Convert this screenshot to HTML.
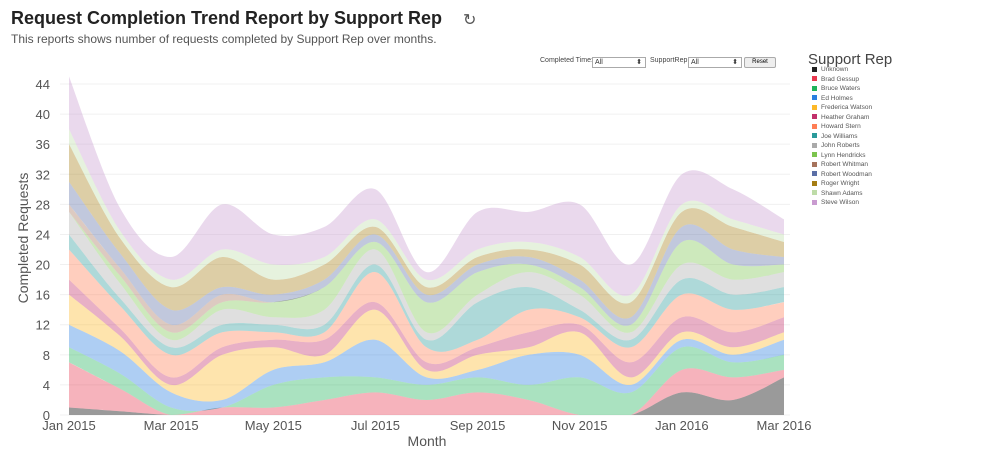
<!DOCTYPE html>
<html><head><meta charset="utf-8"><style>
body{margin:0;width:990px;height:449px;background:#fff;font-family:"Liberation Sans",sans-serif;overflow:hidden;position:relative}
.t{position:absolute;left:11px;top:8px;font-size:18px;font-weight:bold;color:#222}
.s{position:absolute;left:11px;top:32px;font-size:12px;color:#555}
.ctl{position:absolute;top:57px;font-size:7px;color:#444;white-space:nowrap}
.sel{position:absolute;top:57px;border:1px solid #aaa;width:50px;height:9px;font-size:7px;padding-left:2px;background:#fff;color:#333;line-height:9px}
.btn{position:absolute;left:744px;top:57px;width:30px;height:9px;border:1px solid #aaa;border-radius:2px;background:#eee;font-size:6px;text-align:center;line-height:9px}
.lg{position:absolute;left:812px;font-size:6.5px;color:#555}
.lg i{display:inline-block;width:5px;height:5px;margin-right:4px;vertical-align:middle}
</style></head><body>
<div class="t">Request Completion Trend Report by Support Rep</div>
<div style="position:absolute;left:463px;top:10px;font-size:16px;color:#555">↻</div>
<div class="s">This reports shows number of requests completed by Support Rep over months.</div>
<div class="ctl" style="left:540px">Completed Time:</div>
<div class="sel" style="left:592px">All<span style="position:absolute;right:3px">⬍</span></div>
<div class="ctl" style="left:650px">SupportRep:</div>
<div class="sel" style="left:688px">All<span style="position:absolute;right:3px">⬍</span></div>
<div class="btn">Reset</div>
<div style="position:absolute;left:808px;top:51px;font-size:15px;color:#444">Support Rep</div>
<div id="lg"></div>
<svg id="c" width="990" height="449" style="position:absolute;left:0;top:0"></svg>
<script>
var names=["Unknown","Brad Gessup","Bruce Waters","Ed Holmes","Frederica Watson","Heather Graham","Howard Stern","Joe Williams","John Roberts","Lynn Hendricks","Robert Whitman","Robert Woodman","Roger Wright","Shawn Adams","Steve Wilson"];
var cols=["#222","#e8384f","#1fb35a","#2a7fe0","#fdb827","#c2306a","#ff7e55","#2a9a9a","#aaa","#7cc44e","#a6735c","#5b6fa6","#a57d14","#bedca8","#c99bd0"];
var D=[[1,0.5,0,0,0,0,0,0,0,0,0,0,3,2,5],
[6,3,0,1,1,2,3,2,3,2,0,0,3,3,1],
[2,2,1,0,3,3,2,2,2,2,5,3,3,2,2],
[3,3,2,1,2,2,5,1,1,4,3,1,1,1,2],
[4,2,1,6,3,1,4,1,2,1,3,1,1,1,1],
[2,1,1,1,1,2,1,1,1,2,1,2,2,2,2],
[4,3,3,2,1,1,4,2,1,3,1,2,3,3,2],
[2,1,1,1,1,1,1,1,5,3,1,1,2,2,2],
[3,2,1,2,1,2,2,1,1,2,2,1,2,2,2],
[0,1,1,1,2,3,1,4,3,1,1,1,3,2,1],
[1,1,1,1,0,0,0,0,0,0,0,0,0,0,0],
[3,2,2,1,1,1,1,1,1,1,1,1,2,2,1],
[5,2,3,4,2,2,1,1,1,1,2,2,2,3,2],
[2,1,1,1,2,1,1,1,1,1,1,1,1,1,1],
[7,3,3,6,4,4,4,1,5,4,7,4,4,4,2]];
var X0=69,DX=(784-69)/14,Y0=415,SY=(415-84)/44;
var svg='',i,j;
for(i=0;i<=44;i+=4){var y=Y0-i*SY;svg+='<line x1="60" x2="790" y1="'+y+'" y2="'+y+'" stroke="#f0f0f0"/>';
svg+='<text x="50" y="'+(y+5)+'" text-anchor="end" font-size="13" fill="#555">'+i+'</text>';}
var ml=["Jan 2015","Mar 2015","May 2015","Jul 2015","Sep 2015","Nov 2015","Jan 2016","Mar 2016"];
for(i=0;i<8;i++){svg+='<text x="'+(X0+i*2*DX)+'" y="430" text-anchor="middle" font-size="13" fill="#555">'+ml[i]+'</text>';}
svg+='<text x="427" y="446" text-anchor="middle" font-size="14" fill="#555">Month</text>';
svg+='<text transform="translate(28,238) rotate(-90)" text-anchor="middle" font-size="14" fill="#555">Completed Requests</text>';
var cum=[];var base=new Array(15).fill(0);cum.push(base.slice());
for(i=0;i<15;i++){for(j=0;j<15;j++)base[j]+=D[i][j];cum.push(base.slice());}
function pts(a){return a.map(function(v,k){return [X0+k*DX,Y0-v*SY];});}
function curve(p,rev){if(rev)p=p.slice().reverse();var s='';for(var k=0;k<p.length-1;k++){var p0=p[Math.max(k-1,0)],p1=p[k],p2=p[k+1],p3=p[Math.min(k+2,p.length-1)];
var c1=[p1[0]+(p2[0]-p0[0])/6,p1[1]+(p2[1]-p0[1])/6],c2=[p2[0]-(p3[0]-p1[0])/6,p2[1]-(p3[1]-p1[1])/6];
c1[1]=Math.min(c1[1],Y0);c2[1]=Math.min(c2[1],Y0);
s+=' C'+c1[0].toFixed(1)+','+c1[1].toFixed(1)+' '+c2[0].toFixed(1)+','+c2[1].toFixed(1)+' '+p2[0].toFixed(1)+','+p2[1].toFixed(1);}return s;}
for(i=0;i<15;i++){var lo=pts(cum[i]),hi=pts(cum[i+1]);
var d='M'+hi[0][0]+','+hi[0][1]+curve(hi)+' L'+lo[14][0]+','+lo[14][1]+curve(lo,true)+' Z';
svg+='<path d="'+d+'" fill="'+(i==0?'#888':cols[i])+'" fill-opacity="'+(i==0?0.85:0.38)+'" stroke="none"/>';}
document.getElementById('c').innerHTML=svg;
var lg='';for(i=0;i<15;i++){lg+='<div class="lg" style="top:'+(66+i*9.5)+'px"><i style="background:'+cols[i]+'"></i>'+names[i]+'</div>';}
document.getElementById('lg').innerHTML=lg;
</script>
</body></html>
